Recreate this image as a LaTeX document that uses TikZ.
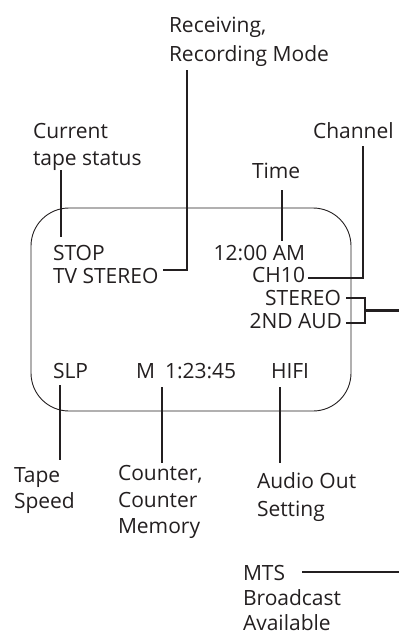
\documentclass[tikz,border=0pt]{standalone}
\usepackage{fontspec}
\setmainfont{Open Sans}
\usetikzlibrary{calc}
\definecolor{ink}{RGB}{35,31,32}
\begin{document}
\begin{tikzpicture}[x=1pt,y=-1pt,
  txt/.style={inner sep=0pt,outer sep=0pt,anchor=base west,text=ink,font=\fontsize{21}{25}\selectfont},
  txtr/.style={txt,anchor=base east},
  conn/.style={draw=ink,line width=2.3pt},
  screenbox/.style={draw=ink,line width=0.9pt,rounded corners=38pt,inner sep=0pt,minimum width=320pt,minimum height=203pt}]
\useasboundingbox (0,0) rectangle (399,634);
% screen
\node[screenbox] (screen) at (191,309.5) {};
% labels
\node[txt] (rec1) at (169,33) {Receiving,};
\node[txt] (rec2) at (169,62) {Recording Mode};
\node[txt] (cur1) at (33,138) {Current};
\node[txt] (cur2) at (33,165) {tape status};
\node[txt] (tm) at (252,178) {Time};
\node[txt] (chan) at (313,138) {Channel};
\node[txt] (tape1) at (14,482) {Tape};
\node[txt] (tape2) at (14,508) {Speed};
\node[txt] (cnt1) at (118,480) {Counter,};
\node[txt] (cnt2) at (118,507) {Counter};
\node[txt] (cnt3) at (118,533) {Memory};
\node[txt] (aud1) at (257,488) {Audio Out};
\node[txt] (aud2) at (257,516) {Setting};
\node[txt] (mts1) at (243,580) {MTS};
\node[txt] (mts2) at (243,605) {Broadcast};
\node[txt] (mts3) at (243,630) {Available};
% display texts
\node[txt] (stop) at (53,260) {STOP};
\node[txt] (tvst) at (53,283) {TV STEREO};
\node[txtr] (clock) at (305,260) {12:00 AM};
\node[txtr] (ch) at (305,282) {CH10};
\node[txtr] (stereo) at (341,305) {STEREO};
\node[txtr] (sap) at (342,328) {2ND AUD};
\node[txt] (slp) at (53,378) {SLP};
\node[txt] (mm) at (136,378) {M};
\node[txt] (count) at (165,378) {1:23:45};
\node[txt] (hifi) at (271,378) {HIFI};
% connector end points
\coordinate (s1) at ($(stop.north west)+(8,-8)$);
\coordinate (s2) at ($(cur2.south west)+(28,0)$);
\coordinate (r1) at ($(tvst.base east)+(5,-13)$);
\coordinate (r2) at ($(rec2.south west)+(18,3)$);
\coordinate (t1) at ($(tm.base west)+(30,12)$);
\coordinate (t2) at ($(clock.base)+(0,-19)$);
\coordinate (c1) at ($(ch.base east)+(3,-4)$);
\coordinate (c2) at ($(chan.base west)+(50,8)$);
\coordinate (b1) at ($(stereo.base east)+(5,-7)$);
\coordinate (b2) at ($(sap.base east)+(4,-5)$);
\coordinate (brk) at ($(b1)+(19,0)$);
\coordinate (brk2) at (brk |- b2);
\coordinate (brkm) at ($(brk)!0.5!(brk2)$);
\coordinate (edgeA) at (399,310);
\coordinate (m1) at ($(mts1.base east)+(17,-8)$);
\coordinate (edgeB) at (399,574);
\coordinate (p1) at ($(slp.base west)+(7,7)$);
\coordinate (p2) at ($(tape1.north west)+(0,-7)$);
\coordinate (q1) at ($(count.base west)+(-3,9)$);
\coordinate (q2) at ($(cnt1.north west)+(0,-2)$);
\coordinate (h1) at ($(hifi.base west)+(9,9)$);
\coordinate (h2) at ($(aud1.north west)+(0,-9)$);
% connectors
\draw[conn] (s1) -- (s1 |- s2);
\draw[conn] (r1) -| (r2);
\draw[conn] (t1) -- (t1 |- t2);
\draw[conn] (c1) -| (c2);
\draw[conn] (b1) -- (brk) -- (brk2) -- (b2);
\draw[conn] (brkm) -- (brkm -| edgeA);
\draw[conn] (m1) -- (m1 -| edgeB);
\draw[conn] (p1) -- (p1 |- p2);
\draw[conn] (q1) -- (q1 |- q2);
\draw[conn] (h1) -- (h1 |- h2);
\end{tikzpicture}
\end{document}
